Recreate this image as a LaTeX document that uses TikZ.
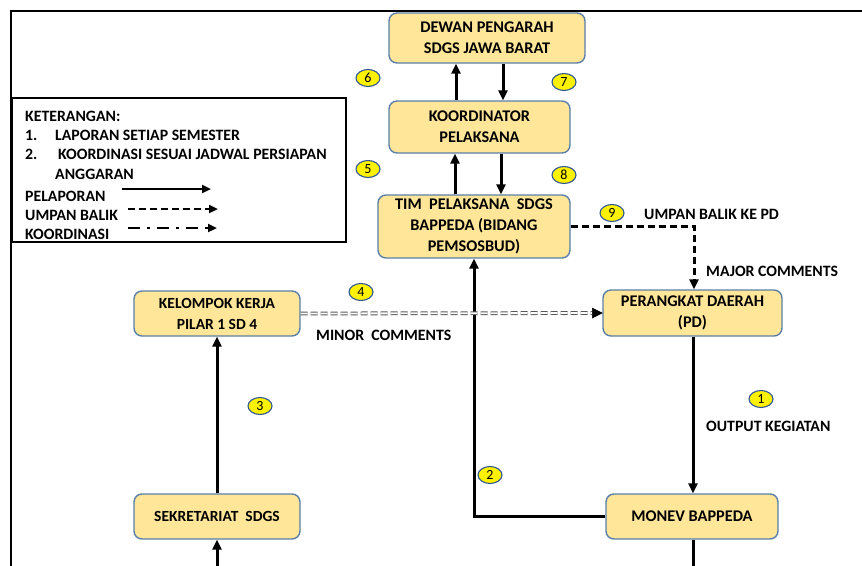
\documentclass[tikz,border=0pt]{standalone}
\usepackage{fontspec}
\setmainfont{Carlito}
\usetikzlibrary{arrows.meta,shapes.geometric,calc}
\definecolor{boxfill}{HTML}{FFE699}
\definecolor{boxline}{HTML}{5B7FA6}
\definecolor{badgeline}{HTML}{2F5597}
\tikzset{
  unitbox/.style={draw=boxline, line width=1.4pt, fill=boxfill, rounded corners=8pt, align=center,
     font=\fontsize{16.3}{21}\selectfont\bfseries, inner sep=0pt},
  badge/.style={ellipse, draw=badgeline, line width=1.1pt, fill=yellow, minimum width=24pt, minimum height=17pt,
     inner sep=0pt, font=\fontsize{14}{14}\selectfont},
  lbl/.style={font=\fontsize{15.8}{16}\selectfont\bfseries, inner sep=0pt},
  arr/.style={line width=3pt, -{Triangle[length=10pt,width=9pt]}},
  dasharr/.style={line width=3pt, dash pattern=on 7pt off 4pt, -{Triangle[length=10pt,width=9pt]}},
  legtxt/.style={font=\fontsize{15.8}{16}\selectfont\bfseries, inner sep=0pt, anchor=base west},
}
\begin{document}
\begin{tikzpicture}[x=1pt,y=-1pt]
\useasboundingbox (0,0) rectangle (862,565);
% outer frame
\draw[line width=2pt] (11,566) -- (11,11) -- (863,11);
% legend
\draw[line width=1.8pt] (12,98) rectangle (346,242);
\node[legtxt] (k0) at (25,121) {KETERANGAN:};
\node[legtxt] (k1a) at (25,140) {1.};
\node[legtxt] (k1b) at (55,140) {LAPORAN SETIAP SEMESTER};
\node[legtxt] (k2a) at (25,159) {2.};
\node[legtxt] (k2b) at (58,159) {KOORDINASI SESUAI JADWAL PERSIAPAN};
\node[legtxt] (k2c) at (55,179) {ANGGARAN};
\node[legtxt] (k3) at (25,201) {PELAPORAN};
\node[legtxt] (k4) at (25,220) {UMPAN BALIK};
\node[legtxt] (k5) at (25,239) {KOORDINASI};
\coordinate (la1) at (122,189); \coordinate (lb1) at (211,189);
\coordinate (la2) at (128,209); \coordinate (lb2) at (218,209);
\coordinate (la3) at (128,228); \coordinate (lb3) at (217,228);
\draw[line width=2.6pt, -{Triangle[length=9pt,width=8pt]}] (la1) -- (lb1);
\draw[line width=2.6pt, dash pattern=on 7pt off 4pt, -{Triangle[length=9pt,width=8pt]}] (la2) -- (lb2);
\draw[line width=2.6pt, dash pattern=on 12pt off 7pt on 3pt off 7pt, -{Triangle[length=9pt,width=8pt]}] (la3) -- (lb3);
% boxes
\node[unitbox, minimum width=196pt, minimum height=50pt] (dewan) at (487,38) {DEWAN PENGARAH\\SDGS JAWA BARAT};
\node[unitbox, minimum width=181pt, minimum height=52pt] (koord) at (479.5,127) {KOORDINATOR\\PELAKSANA};
\node[unitbox, minimum width=192pt, minimum height=63pt] (tim) at (474,226.5) {TIM\ \ PELAKSANA\ \ SDGS\\BAPPEDA (BIDANG\\PEMSOSBUD)};
\node[unitbox, minimum width=166pt, minimum height=45pt, font=\fontsize{15.5}{21}\selectfont\bfseries] (kelompok) at (217,313.5) {KELOMPOK KERJA\\PILAR 1 SD 4};
\node[unitbox, minimum width=179pt, minimum height=46pt] (pd) at (692.5,313) {PERANGKAT DAERAH\\(PD)};
\node[unitbox, minimum width=166pt, minimum height=45pt, font=\fontsize{15.5}{21}\selectfont\bfseries] (sekre) at (217,516.5) {SEKRETARIAT\ \ SDGS};
\node[unitbox, minimum width=172pt, minimum height=45pt] (monev) at (692,516.5) {MONEV BAPPEDA};
% connectors
\draw[arr] (456,0 |- koord.north) -- (456,0 |- dewan.south);
\draw[arr] (503,0 |- dewan.south) -- (503,0 |- koord.north);
\draw[arr] (455,0 |- tim.north) -- (455,0 |- koord.south);
\draw[arr] (501,0 |- koord.south) -- (501,0 |- tim.north);
\draw[arr] (monev.west) -- (474,0 |- monev.west) -- (474,0 |- tim.south);
\draw[dasharr] (tim.east) -- (694,0 |- tim.east) -- (694,0 |- pd.north);
\coordinate (dblend) at ($(pd.west)+(-10,0)$);
\draw[draw=black!65, double=white, double distance=1.8pt, line width=1pt, dash pattern=on 7pt off 3pt] (kelompok.east) -- (dblend);
\draw[fill=black] (pd.west) -- ++(-10,-5) -- ++(0,10) -- cycle;
\draw[arr] (sekre.north) -- (kelompok.south);
\coordinate (sbot) at (217,566);
\draw[arr] (sbot) -- (sekre.south);
\draw[arr] (693,0 |- pd.south) -- (693,0 |- monev.north);
\coordinate (mbot) at (693,566);
\draw[line width=3pt] (693,0 |- monev.south) -- (mbot);
% badges
\node[badge] (b6) at (368,78) {6};
\node[badge] (b7) at (564,82) {7};
\node[badge] (b5) at (368,169) {5};
\node[badge] (b8) at (564,175) {8};
\node[badge] (b9) at (612,213) {9};
\node[badge] (b4) at (361,292) {4};
\node[badge] (b3) at (260,406) {3};
\node[badge] (b1) at (761,399) {1};
\node[badge] (b2) at (490,475) {2};
% labels
\node[lbl, anchor=west] (l9) at (644,214) {UMPAN BALIK KE PD};
\node[lbl, anchor=west] (lmaj) at (706,271) {MAJOR COMMENTS};
\node[lbl, anchor=west] (lmin) at (316,335) {MINOR\ \ COMMENTS};
\node[lbl, anchor=west] (lout) at (706,426) {OUTPUT KEGIATAN};
\end{tikzpicture}
\end{document}
